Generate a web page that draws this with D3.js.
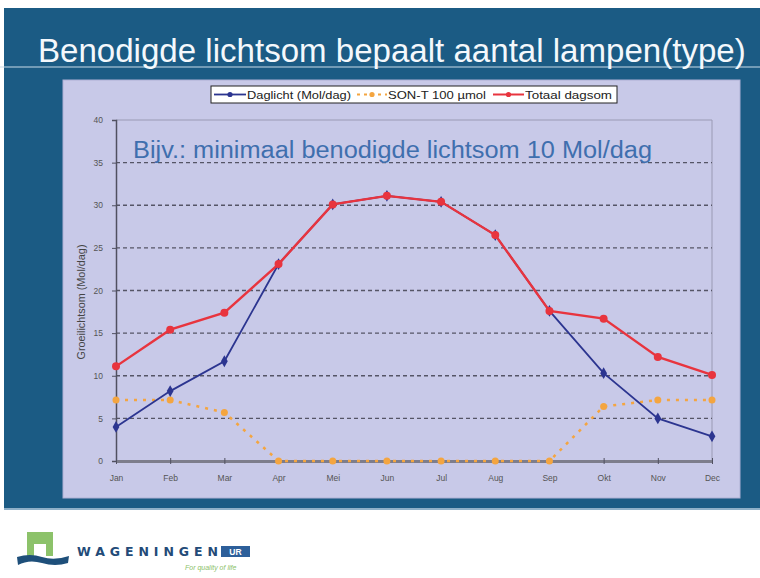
<!DOCTYPE html>
<html>
<head>
<meta charset="utf-8">
<script src="https://cdn.jsdelivr.net/npm/d3@7"></script>
<style>
  body { margin: 0; background: #fff; }
  svg { display: block; font-family: "Liberation Sans", Arial, sans-serif; }
</style>
</head>
<body>
<div id="chart"></div>
<script>
// chart data
const months = ["Jan", "Feb", "Mar", "Apr", "Mei", "Jun", "Jul", "Aug", "Sep", "Okt", "Nov", "Dec"];
const daglicht = [4.0, 8.2, 11.7, 23.1, 30.1, 31.1, 30.4, 26.5, 17.6, 10.3, 5.0, 2.9];
const sonT = [7.15, 7.15, 5.7, 0, 0, 0, 0, 0, 0, 6.4, 7.15, 7.15];
const totaal = [11.1, 15.4, 17.4, 23.1, 30.1, 31.1, 30.4, 26.5, 17.6, 16.7, 12.2, 10.1];
const yTicks = [0, 5, 10, 15, 20, 25, 30, 35, 40];
const seriesNames = ["Daglicht (Mol/dag)", "SON-T 100 µmol", "Totaal dagsom"];

const W = 760, H = 578;

const svg = d3.select("#chart").append("svg")
    .attr("width", W)
    .attr("height", H);

// squeeze a text horizontally so it fills a given width (narrow-font look)
function fitWidth(sel, x0, y0, width) {
    const natural = sel.node().getComputedTextLength();
    sel.attr("x", 0).attr("y", 0)
        .attr("transform", "translate(" + x0 + "," + y0 + ") scale(" + (width / natural) + ",1)");
}

// slide background
svg.append("rect").attr("x", 4).attr("y", 8).attr("width", W - 4).attr("height", 501)
    .attr("fill", "#1b5b84");
svg.append("rect").attr("x", 4).attr("y", 508).attr("width", W - 4).attr("height", 2)
    .attr("fill", "#8fb0c8");

// title
svg.append("line").attr("x1", 0).attr("x2", W).attr("y1", 67).attr("y2", 67)
    .attr("stroke", "#c9dbe8").attr("stroke-width", 1.2);
const title = svg.append("text")
    .attr("fill", "#f4f8fc")
    .style("font-family", "'Liberation Sans Narrow', 'Arial Narrow', 'Liberation Sans', sans-serif")
    .style("font-size", "34px")
    .text("Benodigde lichtsom bepaalt aantal lampen(type)");
fitWidth(title, 38, 62, 708);

// chart panel
svg.append("rect").attr("x", 63).attr("y", 80).attr("width", 677).attr("height", 418)
    .attr("fill", "#c8c9e8").attr("stroke", "#aeb0d4").attr("stroke-width", 1);

const margin = {left: 116, right: 712, top: 120, bottom: 461};

const x = d3.scalePoint()
    .domain(months)
    .range([margin.left, margin.right]);

const y = d3.scaleLinear()
    .domain([0, 40])
    .range([margin.bottom, margin.top]);

// frame top / right
svg.append("line").attr("x1", margin.left).attr("x2", margin.right)
    .attr("y1", y(40)).attr("y2", y(40)).attr("stroke", "#9a9ab4").attr("stroke-width", 1);
svg.append("line").attr("x1", margin.right).attr("x2", margin.right)
    .attr("y1", y(40)).attr("y2", y(0)).attr("stroke", "#9a9ab4").attr("stroke-width", 1);

// grid lines
svg.selectAll("line.grid").data(yTicks.filter(d => d > 0 && d < 40))
    .enter().append("line")
    .attr("class", "grid")
    .attr("x1", margin.left).attr("x2", margin.right)
    .attr("y1", d => y(d)).attr("y2", d => y(d))
    .attr("stroke", "#555566")
    .attr("stroke-width", 1.3)
    .attr("stroke-dasharray", "4,3");

// annotation
svg.append("text")
    .attr("x", 133).attr("y", 158)
    .attr("fill", "#3f6fae")
    .style("font-size", "23px")
    .attr("textLength", 519)
    .attr("lengthAdjust", "spacingAndGlyphs")
    .text("Bijv.: minimaal benodigde lichtsom 10 Mol/dag");

// y axis
const yAxis = svg.append("g")
    .attr("transform", "translate(" + margin.left + ",0)")
    .call(d3.axisLeft(y).tickValues(yTicks).tickSize(4).tickPadding(9));
yAxis.select(".domain").attr("stroke", "#505060").attr("stroke-width", 1.5);
yAxis.selectAll(".tick line").attr("stroke", "#505060");
yAxis.selectAll("text").attr("fill", "#555").style("font-size", "8.5px");

// x axis
const xAxis = svg.append("g")
    .attr("transform", "translate(0," + margin.bottom + ")")
    .call(d3.axisBottom(x).tickSizeInner(-3).tickSizeOuter(0).tickPadding(14));
xAxis.select(".domain").attr("stroke", "#7d7d8c").attr("stroke-width", 3);
xAxis.selectAll(".tick line").attr("stroke", "#505060").attr("y2", -3).attr("y1", 3);
xAxis.selectAll("text").attr("fill", "#555").style("font-size", "8.5px");

// y axis title
svg.append("text")
    .attr("transform", "translate(85,302) rotate(-90)")
    .attr("text-anchor", "middle")
    .attr("fill", "#444")
    .style("font-size", "10px")
    .attr("textLength", 115)
    .attr("lengthAdjust", "spacingAndGlyphs")
    .text("Groeilichtsom (Mol/dag)");

const line = d3.line()
    .x((d, i) => x(months[i]))
    .y(d => y(d));

// SON-T (orange dotted)
svg.append("path").datum(sonT)
    .attr("fill", "none")
    .attr("stroke", "#f4a540")
    .attr("stroke-width", 2.5)
    .attr("stroke-dasharray", "3,6")
    .attr("d", line);
svg.selectAll("circle.sont").data(sonT).enter().append("circle")
    .attr("class", "sont")
    .attr("cx", (d, i) => x(months[i])).attr("cy", d => y(d))
    .attr("r", 3.5).attr("fill", "#f4a540");

// Daglicht (navy)
svg.append("path").datum(daglicht)
    .attr("fill", "none")
    .attr("stroke", "#2c3590")
    .attr("stroke-width", 1.8)
    .attr("d", line);
svg.selectAll("path.dag").data(daglicht).enter().append("path")
    .attr("class", "dag")
    .attr("transform", (d, i) => "translate(" + x(months[i]) + "," + y(d) + ")")
    .attr("d", d3.symbol(d3.symbolDiamond, 40))
    .attr("fill", "#2c3590");

// Totaal dagsom (red)
svg.append("path").datum(totaal)
    .attr("fill", "none")
    .attr("stroke", "#e8343e")
    .attr("stroke-width", 2.4)
    .attr("d", line);
svg.selectAll("circle.tot").data(totaal).enter().append("circle")
    .attr("class", "tot")
    .attr("cx", (d, i) => x(months[i])).attr("cy", d => y(d))
    .attr("r", 4).attr("fill", "#e8343e");

// legend
const legend = svg.append("g").attr("transform", "translate(211,86)");
legend.append("rect").attr("width", 406).attr("height", 17)
    .attr("fill", "#fff").attr("stroke", "#222").attr("stroke-width", 1);

const legendItems = [
    {label: seriesNames[0], color: "#2c3590", x: 3, lw: 32, tw: 104, dash: null, w: 1.8},
    {label: seriesNames[1], color: "#f4a540", x: 146, lw: 30, tw: 98, dash: "3,4", w: 2},
    {label: seriesNames[2], color: "#e8343e", x: 282, lw: 31, tw: 87, dash: null, w: 2}
];
legendItems.forEach(item => {
    legend.append("line")
        .attr("x1", item.x).attr("x2", item.x + item.lw)
        .attr("y1", 8.5).attr("y2", 8.5)
        .attr("stroke", item.color).attr("stroke-width", item.w)
        .attr("stroke-dasharray", item.dash);
    legend.append("circle").attr("cx", item.x + item.lw / 2).attr("cy", 8.5).attr("r", 2.6)
        .attr("fill", item.color);
    legend.append("text")
        .attr("x", item.x + item.lw + 1).attr("y", 12.5)
        .attr("fill", "#222")
        .style("font-size", "11px")
        .attr("textLength", item.tw)
        .attr("lengthAdjust", "spacingAndGlyphs")
        .text(item.label);
});

// logo
const logo = svg.append("g");
logo.append("path")
    .attr("d", "M27,532 H53 V556 H46 V544 H34 V556 H27 Z")
    .attr("fill", "#8cc26a");
logo.append("path")
    .attr("d", "M17,557 Q30,553 42,557 T69,556 L68,563 Q55,567 42,563 T18,565 Z")
    .attr("fill", "#1e4f7a");
logo.append("text")
    .attr("x", 77).attr("y", 556)
    .attr("fill", "#234b78")
    .style("font-family", "'DejaVu Sans', sans-serif")
    .style("font-size", "12.5px")
    .style("font-weight", "bold")
    .attr("textLength", 141)
    .attr("lengthAdjust", "spacing")
    .text("WAGENINGEN");
logo.append("rect").attr("x", 221).attr("y", 546).attr("width", 29).attr("height", 11)
    .attr("fill", "#2d5f9a");
logo.append("text")
    .attr("x", 235.5).attr("y", 555)
    .attr("text-anchor", "middle")
    .attr("fill", "#fff")
    .style("font-size", "8.5px")
    .style("font-weight", "bold")
    .text("UR");
logo.append("text")
    .attr("x", 185).attr("y", 570)
    .attr("fill", "#8cc26a")
    .style("font-size", "7px")
    .style("font-style", "italic")
    .text("For quality of life");
</script>
</body>
</html>
